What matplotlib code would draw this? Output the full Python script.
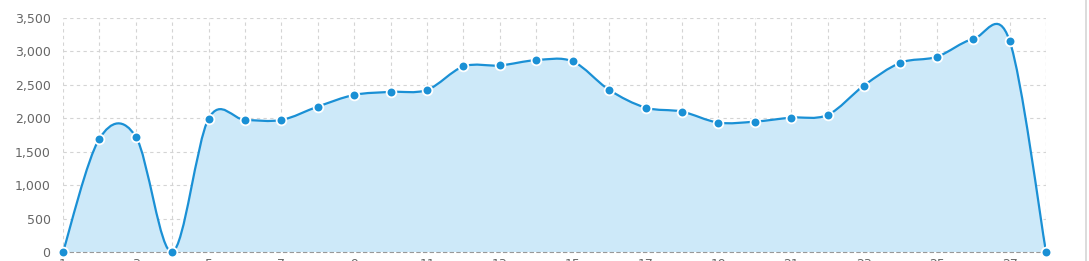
import numpy as np
import matplotlib
matplotlib.use("Agg")
import matplotlib.pyplot as plt
from matplotlib.path import Path
from matplotlib.patches import PathPatch
from matplotlib.lines import Line2D
from matplotlib.ticker import FuncFormatter

# daily values
days = list(range(1, 29))
values = [0, 1695, 1725, 0, 1995, 1975, 1975, 2175, 2350, 2395,
          2425, 2775, 2790, 2870, 2850, 2425, 2160, 2100, 1935, 1950,
          2010, 2050, 2490, 2830, 2920, 3185, 3160, 0]
day_labels = [str(d) for d in days]
y_ticks = [0, 500, 1000, 1500, 2000, 2500, 3000, 3500]

LINE = "#1a90d5"
FILL = "#cde9f9"
GRID = "#d4d4d4"
TEXT = "#666666"


# catmull-rom spline through the points, as cubic bezier segments
def spline_path(xs, ys):
    xs = np.asarray(xs, float)
    ys = np.asarray(ys, float)
    px = np.concatenate([[xs[0]], xs, [xs[-1]]])
    py = np.concatenate([[ys[0]], ys, [ys[-1]]])
    verts = [(xs[0], ys[0])]
    codes = [Path.MOVETO]
    for i in range(1, len(px) - 2):
        c1 = (px[i] + (px[i + 1] - px[i - 1]) / 6, py[i] + (py[i + 1] - py[i - 1]) / 6)
        c2 = (px[i + 1] - (px[i + 2] - px[i]) / 6, py[i + 1] - (py[i + 2] - py[i]) / 6)
        verts += [c1, c2, (px[i + 1], py[i + 1])]
        codes += [Path.CURVE4] * 3
    return verts, codes


fig = plt.figure(figsize=(10.89, 2.61), dpi=100)
ax = fig.add_axes([63 / 1089, 1 - 252 / 261, (1046 - 63) / 1089, (252 - 18) / 261])

x = np.arange(len(values))
verts, codes = spline_path(x, values)

fill_verts = verts + [(x[-1], 0), (x[0], 0), verts[0]]
fill_codes = codes + [Path.LINETO, Path.LINETO, Path.CLOSEPOLY]
ax.add_patch(PathPatch(Path(fill_verts, fill_codes), facecolor=FILL, edgecolor="none", zorder=1))
ax.add_patch(PathPatch(Path(verts, codes), facecolor="none", edgecolor=LINE, lw=1.6,
                       zorder=3, capstyle="round"))
ax.plot(x, values, ls="none", marker="o", ms=7, mfc=LINE, mec="white", mew=1.3,
        zorder=4, clip_on=False)

ax.set_xlim(0, len(values) - 1)
ax.set_ylim(0, 3500)

ax.set_xticks(x, minor=True)
ax.set_xticks(x[::2])
ax.set_xticklabels(day_labels[::2])
ax.set_yticks(y_ticks)
ax.yaxis.set_major_formatter(FuncFormatter(lambda v, p: f"{int(v):,}"))

ax.grid(True, which="both", axis="x", color=GRID, lw=0.8, ls=(0, (3, 3)), zorder=0)
ax.grid(True, which="major", axis="y", color=GRID, lw=0.8, ls=(0, (3, 3)), zorder=0)
ax.set_axisbelow(True)

for s in ["top", "left", "right"]:
    ax.spines[s].set_visible(False)
ax.spines["bottom"].set_color("#999999")
ax.spines["bottom"].set_linestyle((0, (3, 3)))
ax.spines["bottom"].set_linewidth(0.8)
ax.spines["bottom"].set_zorder(2)
ax.axvline(len(values) - 1, color=GRID, lw=0.8, ls=(0, (3, 3)), zorder=0)

ax.tick_params(axis="both", which="both", length=0, labelsize=9, labelcolor=TEXT)
ax.tick_params(axis="y", pad=9)
ax.tick_params(axis="x", pad=4)

# panel edge on the right
fig.add_artist(Line2D([1085.5 / 1089] * 2, [0, 1], color="#d6d6d6", lw=1.2))

fig.savefig("out.png", dpi=100)
